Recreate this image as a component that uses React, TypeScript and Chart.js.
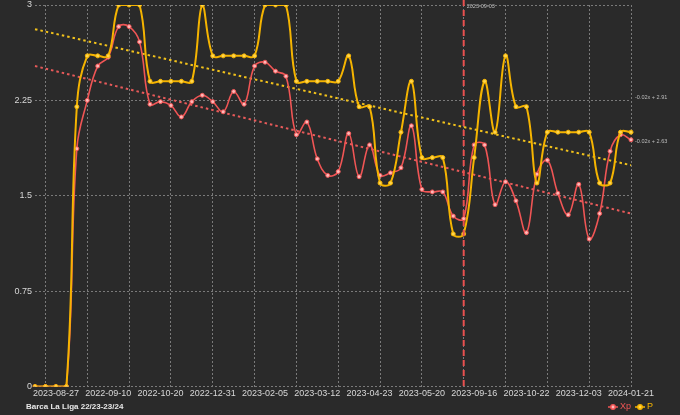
import React, { useEffect, useRef } from 'react';
import { Chart, registerables } from 'chart.js';

Chart.register(...registerables);

const matchDates = [
  '2023-08-13', '2023-08-20', '2023-08-27', '2022-08-13', '2022-08-21', '2022-08-28', '2022-09-03', '2022-09-10',
  '2022-09-17', '2022-10-01', '2022-10-09', '2022-10-16', '2022-10-20', '2022-10-23', '2022-10-29', '2022-11-05',
  '2022-11-08', '2022-12-31', '2023-01-08', '2023-01-15', '2023-01-22', '2023-01-29', '2023-02-05', '2023-02-12',
  '2023-02-19', '2023-02-26', '2023-03-05', '2023-03-12', '2023-03-19', '2023-04-01', '2023-04-10', '2023-04-16',
  '2023-04-23', '2023-04-26', '2023-04-29', '2023-05-02', '2023-05-14', '2023-05-20', '2023-05-23', '2023-05-28',
  '2023-06-04', '2023-09-03', '2023-09-16', '2023-09-23', '2023-09-26', '2023-09-29', '2023-10-08', '2023-10-22',
  '2023-10-28', '2023-11-04', '2023-11-12', '2023-11-25', '2023-12-03', '2023-12-10', '2023-12-16', '2023-12-20',
  '2024-01-04', '2024-01-21',
];

const xpValues = [
  0, 0, 0, 0, 1.87, 2.25, 2.52, 2.59, 2.83, 2.83, 2.71, 2.22, 2.24, 2.21, 2.12, 2.24,
  2.29, 2.24, 2.16, 2.32, 2.22, 2.52, 2.55, 2.48, 2.44, 1.98, 2.08, 1.79, 1.66, 1.69,
  1.99, 1.65, 1.9, 1.66, 1.68, 1.72, 2.05, 1.55, 1.53, 1.53, 1.34, 1.32, 1.9, 1.9,
  1.43, 1.61, 1.46, 1.21, 1.67, 1.78, 1.52, 1.35, 1.59, 1.16, 1.36, 1.85, 1.98, 1.94,
];

const pValues = [
  0, 0, 0, 0, 2.2, 2.6, 2.6, 2.6, 3, 3, 3, 2.4, 2.4, 2.4, 2.4, 2.4,
  3, 2.6, 2.6, 2.6, 2.6, 2.6, 3, 3, 3, 2.4, 2.4, 2.4, 2.4, 2.4,
  2.6, 2.2, 2.2, 1.6, 1.6, 2.0, 2.4, 1.8, 1.8, 1.8, 1.2, 1.2, 1.8, 2.4,
  2.0, 2.6, 2.2, 2.2, 1.6, 2.0, 2.0, 2.0, 2.0, 2.0, 1.6, 1.6, 2.0, 2.0,
];

// trend line end values (first match, last match)
const trendP = [2.81, 1.74];
const trendXp = [2.52, 1.36];
const trendTexts = ['-0.02x + 2.91', '-0.02x + 2.63'];
const trendTextAt = [2.27, 1.93];

const markerDate = '2023-09-03';
const chartTitle = 'Barca La Liga 22/23-23/24';

const BG = '#2a2a2a';
const YELLOW = '#f5b400';
const YELLOW_PT = '#ffd54d';
const RED = '#f05555';
const RED_PT = '#ffb8b8';
const GRID = '#7a7a7a';
const FONT = '"Liberation Sans", Arial, sans-serif';

const extrasPlugin = {
  id: 'extras',
  beforeDraw(chart: Chart) {
    const ctx = chart.ctx;
    ctx.save();
    ctx.fillStyle = BG;
    ctx.fillRect(0, 0, chart.width, chart.height);
    ctx.restore();
  },
  afterDatasetsDraw(chart: Chart) {
    const ctx = chart.ctx;
    const xs = chart.scales.x;
    const ys = chart.scales.y;
    const area = chart.chartArea;
    ctx.save();

    // vertical marker
    const mx = xs.getPixelForValue(matchDates.indexOf(markerDate));
    ctx.strokeStyle = '#e8504f';
    ctx.lineWidth = 2;
    ctx.setLineDash([6, 4]);
    ctx.beginPath();
    ctx.moveTo(mx, 0);
    ctx.lineTo(mx, area.bottom);
    ctx.stroke();
    ctx.setLineDash([]);
    ctx.font = `5.5px ${FONT}`;
    ctx.fillStyle = '#bdbdbd';
    ctx.textBaseline = 'middle';
    ctx.textAlign = 'left';
    ctx.fillText(markerDate, mx + 3, 6);

    // trend labels
    trendTexts.forEach((t, i) => {
      ctx.fillText(t, area.right + 4, ys.getPixelForValue(trendTextAt[i]));
    });

    // title
    const ly = 407;
    ctx.font = `bold 8px ${FONT}`;
    ctx.fillStyle = '#e8e8e8';
    ctx.fillText(chartTitle, 26, ly);

    // legend
    const items = [
      { label: 'Xp', color: RED, fill: RED_PT, x: 608 },
      { label: 'P', color: YELLOW, fill: YELLOW_PT, x: 635 },
    ];
    ctx.font = `9px ${FONT}`;
    items.forEach((it) => {
      ctx.strokeStyle = it.color;
      ctx.lineWidth = 1.5;
      ctx.beginPath();
      ctx.moveTo(it.x, ly);
      ctx.lineTo(it.x + 10, ly);
      ctx.stroke();
      ctx.beginPath();
      ctx.arc(it.x + 5, ly, 2.2, 0, Math.PI * 2);
      ctx.fillStyle = it.fill;
      ctx.fill();
      ctx.stroke();
      ctx.fillStyle = it.color;
      ctx.fillText(it.label, it.x + 12, ly);
    });
    ctx.restore();
  },
};

const App: React.FC = () => {
  const canvasRef = useRef<HTMLCanvasElement>(null);
  const chartRef = useRef<Chart | null>(null);

  useEffect(() => {
    if (!canvasRef.current) return;
    if (chartRef.current) chartRef.current.destroy();
    const last = matchDates.length - 1;

    chartRef.current = new Chart(canvasRef.current, {
      type: 'line',
      data: {
        labels: matchDates,
        datasets: [
          {
            label: 'P',
            data: pValues,
            borderColor: YELLOW,
            backgroundColor: YELLOW_PT,
            pointBackgroundColor: YELLOW_PT,
            pointBorderColor: YELLOW,
            borderWidth: 2,
            pointRadius: 2,
            pointBorderWidth: 1,
            tension: 0.4,
          },
          {
            label: 'Xp',
            data: xpValues,
            borderColor: RED,
            backgroundColor: RED_PT,
            pointBackgroundColor: RED_PT,
            pointBorderColor: RED,
            borderWidth: 1.6,
            pointRadius: 2,
            pointBorderWidth: 1,
            tension: 0.4,
          },
          {
            label: 'P trend',
            data: [
              { x: matchDates[0], y: trendP[0] },
              { x: matchDates[last], y: trendP[1] },
            ],
            borderColor: '#f2c21b',
            borderWidth: 2,
            borderDash: [2.5, 3],
            pointRadius: 0,
            tension: 0,
          },
          {
            label: 'Xp trend',
            data: [
              { x: matchDates[0], y: trendXp[0] },
              { x: matchDates[last], y: trendXp[1] },
            ],
            borderColor: '#e85a5a',
            borderWidth: 2,
            borderDash: [2.5, 3],
            pointRadius: 0,
            tension: 0,
          },
        ] as any,
      },
      options: {
        responsive: false,
        animation: false,
        layout: { padding: { left: 0, right: 49, top: 2.5, bottom: 15.5 } },
        plugins: {
          legend: { display: false },
          tooltip: { enabled: false },
        },
        scales: {
          x: {
            afterFit: (s: any) => {
              s.height = 13;
              s.paddingLeft = 0;
              s.paddingRight = 0;
            },
            grid: {
              drawTicks: false,
              color: (c: any) => ((c.index - 1) % 4 === 0 ? GRID : 'rgba(0,0,0,0)'),
              lineWidth: 1,
            },
            border: { display: false, dash: [2, 2] },
            ticks: {
              autoSkip: false,
              maxRotation: 0,
              minRotation: 0,
              padding: 2,
              color: '#d8d8d8',
              font: { size: 9, family: FONT },
              callback: (_v: any, i: number) => ((last - i) % 5 === 0 ? matchDates[i] : ''),
            },
          },
          y: {
            min: 0,
            max: 3,
            afterFit: (s: any) => {
              s.width = 35;
              s.paddingTop = 0;
              s.paddingBottom = 0;
            },
            grid: { drawTicks: false, color: GRID, lineWidth: 1 },
            border: { display: false, dash: [2, 2] },
            ticks: {
              stepSize: 0.75,
              padding: 3,
              color: '#d8d8d8',
              font: { size: 9, family: FONT },
              callback: (v: any) => String(Number(Number(v).toFixed(2))),
            },
          },
        },
      },
      plugins: [extrasPlugin],
    });

    return () => {
      if (chartRef.current) {
        chartRef.current.destroy();
        chartRef.current = null;
      }
    };
  }, []);

  return (
    <div style={{ position: 'fixed', left: 0, top: 0, width: 680, height: 415, background: BG }}>
      <canvas ref={canvasRef} width={680} height={415}></canvas>
    </div>
  );
};

export default App;
